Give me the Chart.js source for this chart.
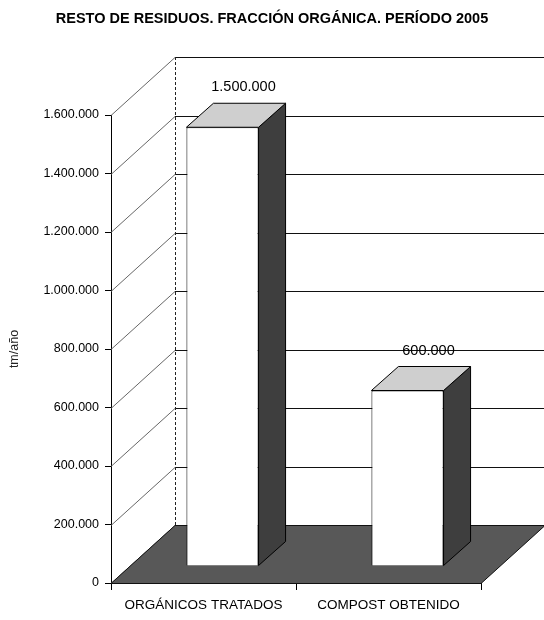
<!DOCTYPE html>
<html><head><meta charset="utf-8">
<script src="https://cdn.jsdelivr.net/npm/chart.js@4.4.1/dist/chart.umd.min.js"></script>
<style>html,body{margin:0;padding:0;background:#fff;} canvas{display:block;}</style>
</head><body>
<canvas id="c" width="544" height="620"></canvas>
<script>
const chartTitle = 'RESTO DE RESIDUOS. FRACCIÓN ORGÁNICA. PERÍODO 2005';
const categories = ['ORGÁNICOS TRATADOS', 'COMPOST OBTENIDO'];
const values = [1500000, 600000];
const yTickValues = [0, 200000, 400000, 600000, 800000, 1000000, 1200000, 1400000, 1600000];
const yAxisTitle = 'tm/año';

const FONT = "'Liberation Sans', Arial, Helvetica, sans-serif";
const fmt = v => String(v).replace(/\B(?=(\d{3})+(?!\d))/g, '.');

// 3D look (pixel offsets)
const WALL_DX = 64, WALL_DY = -58;
const BAR_SHIFT_X = 19, BAR_SHIFT_Y = -17;
const BAR_DX = 27, BAR_DY = -24;

const threeD = {
  id: 'threeD',
  beforeDatasetsDraw(chart) {
    const {ctx, chartArea: a, scales: {y}} = chart;
    ctx.save();
    ctx.lineWidth = 1;
    yTickValues.forEach(v => {
      const py = Math.round(y.getPixelForValue(v)) + 0.5;
      ctx.setLineDash([]);
      ctx.strokeStyle = '#666';
      ctx.beginPath(); ctx.moveTo(a.left, py); ctx.lineTo(a.left + WALL_DX, py + WALL_DY); ctx.stroke();
      ctx.strokeStyle = '#111';
      ctx.beginPath(); ctx.moveTo(a.left + WALL_DX, py + WALL_DY); ctx.lineTo(a.right + WALL_DX, py + WALL_DY); ctx.stroke();
    });
    const bx = Math.round(a.left + WALL_DX) + 0.5;
    ctx.setLineDash([3, 2]);
    ctx.strokeStyle = '#222';
    ctx.beginPath(); ctx.moveTo(bx, a.top + WALL_DY); ctx.lineTo(bx, a.bottom + WALL_DY); ctx.stroke();
    ctx.setLineDash([]);
    // floor
    const fb = Math.round(a.bottom) + 0.5;
    ctx.fillStyle = '#585858';
    ctx.strokeStyle = '#111';
    ctx.beginPath();
    ctx.moveTo(a.left, fb);
    ctx.lineTo(a.right, fb);
    ctx.lineTo(a.right + WALL_DX, fb + WALL_DY);
    ctx.lineTo(a.left + WALL_DX, fb + WALL_DY);
    ctx.closePath();
    ctx.fill();
    ctx.stroke();
    ctx.restore();
  },
  beforeDatasetDraw(chart) {
    chart.ctx.save();
    chart.ctx.translate(BAR_SHIFT_X, BAR_SHIFT_Y);
  },
  afterDatasetDraw(chart, args) {
    const ctx = chart.ctx;
    args.meta.data.forEach((el, i) => {
      const {x, y, base, width} = el.getProps(['x', 'y', 'base', 'width'], true);
      const l = x - width / 2, r = x + width / 2;
      ctx.lineWidth = 1;
      ctx.strokeStyle = '#000';
      // side face
      ctx.fillStyle = '#3e3e3e';
      ctx.beginPath();
      ctx.moveTo(r, y); ctx.lineTo(r + BAR_DX, y + BAR_DY);
      ctx.lineTo(r + BAR_DX, base + BAR_DY); ctx.lineTo(r, base);
      ctx.closePath(); ctx.fill(); ctx.stroke();
      // top face
      ctx.fillStyle = '#cfcfcf';
      ctx.beginPath();
      ctx.moveTo(l, y); ctx.lineTo(l + BAR_DX, y + BAR_DY);
      ctx.lineTo(r + BAR_DX, y + BAR_DY); ctx.lineTo(r, y);
      ctx.closePath(); ctx.fill(); ctx.stroke();
      // value label
      ctx.fillStyle = '#000';
      ctx.font = '14.5px ' + FONT;
      ctx.textAlign = 'center';
      ctx.textBaseline = 'middle';
      ctx.fillText(fmt(values[i]), x + 21, y + BAR_DY - 16);
    });
    ctx.restore();
  }
};

new Chart(document.getElementById('c'), {
  type: 'bar',
  data: {
    labels: categories,
    datasets: [{
      data: values,
      backgroundColor: '#ffffff',
      borderColor: '#000000',
      borderWidth: 1,
      barPercentage: 0.39,
      categoryPercentage: 1
    }]
  },
  options: {
    responsive: false,
    devicePixelRatio: 1,
    animation: false,
    layout: {padding: 0},
    plugins: {
      legend: {display: false},
      tooltip: {enabled: false},
      title: {
        display: true,
        text: chartTitle,
        color: '#000',
        font: {family: FONT, size: 14.5, weight: 'bold'},
        padding: {top: 10, bottom: 87.6}
      }
    },
    scales: {
      x: {
        offset: true,
        grid: {display: true, drawOnChartArea: false, drawTicks: true, tickLength: 7, color: '#000', offset: true},
        border: {display: true, color: '#000'},
        ticks: {color: '#000', padding: 7, font: {family: FONT, size: 13.5}, maxRotation: 0},
        afterFit(s) { s.height = 37; }
      },
      y: {
        min: 0,
        max: 1600000,
        afterBuildTicks(s) { s.ticks = yTickValues.map(v => ({value: v})); },
        grid: {display: true, drawOnChartArea: false, drawTicks: true, tickLength: 6, color: '#000'},
        border: {display: true, color: '#000', dash: [3, 2]},
        ticks: {color: '#000', padding: 6, font: {family: FONT, size: 12.5}, callback: v => fmt(v)},
        title: {display: true, text: yAxisTitle, color: '#222', font: {family: FONT, size: 12.5}, padding: {top: 7.5, bottom: 0}},
        afterFit(s) { s.width = 111; }
      },
      yR: {
        type: 'linear',
        position: 'right',
        display: true,
        grid: {display: false},
        border: {display: false},
        ticks: {display: false},
        afterFit(s) { s.width = 63; }
      }
    }
  },
  plugins: [threeD]
});
</script>
</body></html>
